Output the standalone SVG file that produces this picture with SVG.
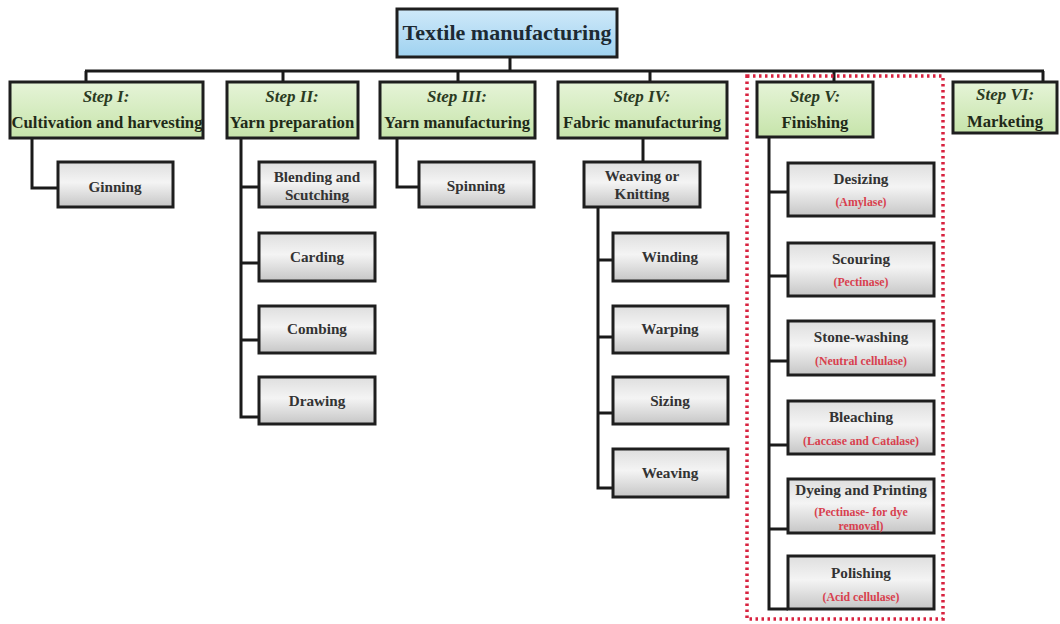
<svg xmlns="http://www.w3.org/2000/svg" width="1060" height="624" viewBox="0 0 1060 624">
<defs>
<linearGradient id="gBlue" x1="0" y1="0" x2="0" y2="1"><stop offset="0" stop-color="#cfe9f9"/><stop offset="1" stop-color="#9fd2f0"/></linearGradient>
<linearGradient id="gGreen" x1="0" y1="0" x2="0" y2="1"><stop offset="0" stop-color="#e6f4d8"/><stop offset="1" stop-color="#c6e4aa"/></linearGradient>
<linearGradient id="gGray" x1="0" y1="0" x2="0" y2="1"><stop offset="0" stop-color="#dedede"/><stop offset="0.45" stop-color="#f4f4f4"/><stop offset="1" stop-color="#c6c6c6"/></linearGradient>
<style>
.box{stroke:#1e1e1e;stroke-width:3}
.title{fill:url(#gBlue)}
.step{fill:url(#gGreen)}
.child{fill:url(#gGray)}
text{font-family:"Liberation Serif","Times New Roman",serif;font-weight:bold;text-anchor:middle}
.tt{font-size:22px;fill:#1d2a33}
.si{font-size:17px;font-style:italic;fill:#2a3a22}
.sn{font-size:16.7px;fill:#1f2a18}
.ct{font-size:15.2px;fill:#333}
.rt{font-size:11.8px;fill:#d8404e}
.con{stroke:#1a1a1a;stroke-width:3;fill:none}
</style>
</defs>
<rect width="1060" height="624" fill="#ffffff"/>
<g id="connectors">
<path class="con" d="M510 57V71" stroke-width="4"/>
<path class="con" d="M85 71H1044"/>
<path class="con" d="M86 71V82M283 71V82M458 71V82M650 71V82M834 71V82M1043 71V82"/>
<path class="con" d="M32 138V188H58"/>
<path class="con" d="M241 138V417H259M241 187H259M241 263H259M241 340H259"/>
<path class="con" d="M397 138V187H419"/>
<path class="con" d="M643 137V162"/>
<path class="con" d="M598 207V488H613M598 260H613M598 337H613M598 413H613"/>
<path class="con" d="M769 137V609H788M769 192H788M769 276H788M769 361H788M769 445H788M769 529H788"/>
</g>
<rect id="highlight" x="747" y="76" width="196" height="543" fill="none" stroke="#d8223f" stroke-width="3.5" stroke-dasharray="2.5 3.5"/>
<g id="title"><rect class="box title" x="397" y="9" width="220" height="48"/><text class="tt" x="507" y="40">Textile manufacturing</text></g>
<g id="step1"><rect class="box step" x="10" y="82" width="193" height="56"/><text class="si" x="106" y="102">Step I:</text><text class="sn" x="107" y="128">Cultivation and harvesting</text></g>
<g id="step2"><rect class="box step" x="227" y="82" width="131" height="56"/><text class="si" x="292" y="102">Step II:</text><text class="sn" x="292" y="128">Yarn preparation</text></g>
<g id="step3"><rect class="box step" x="380" y="82" width="155" height="56"/><text class="si" x="457" y="102">Step III:</text><text class="sn" x="457" y="128">Yarn manufacturing</text></g>
<g id="step4"><rect class="box step" x="558" y="82" width="169" height="56"/><text class="si" x="642" y="102">Step IV:</text><text class="sn" x="642" y="128">Fabric manufacturing</text></g>
<g id="step5"><rect class="box step" x="757" y="82" width="116" height="55"/><text class="si" x="815" y="102">Step V:</text><text class="sn" x="815" y="128">Finishing</text></g>
<g id="step6"><rect class="box step" x="953" y="82" width="104" height="51"/><text class="si" x="1005" y="100">Step VI:</text><text class="sn" x="1005" y="127">Marketing</text></g>
<g id="ginning"><rect class="box child" x="58" y="162" width="115" height="45"/><text class="ct" x="115" y="192">Ginning</text></g>
<g id="blending"><rect class="box child" x="259" y="162" width="116" height="45"/><text class="ct" x="317" y="182">Blending and</text><text class="ct" x="317" y="200">Scutching</text></g>
<g id="carding"><rect class="box child" x="259" y="233" width="116" height="48"/><text class="ct" x="317" y="262">Carding</text></g>
<g id="combing"><rect class="box child" x="259" y="306" width="116" height="47"/><text class="ct" x="317" y="334">Combing</text></g>
<g id="drawing"><rect class="box child" x="259" y="377" width="116" height="47"/><text class="ct" x="317" y="406">Drawing</text></g>
<g id="spinning"><rect class="box child" x="419" y="162" width="115" height="45"/><text class="ct" x="476" y="191">Spinning</text></g>
<g id="weavingknitting"><rect class="box child" x="584" y="162" width="116" height="45"/><text class="ct" x="642" y="181">Weaving or</text><text class="ct" x="642" y="199">Knitting</text></g>
<g id="winding"><rect class="box child" x="613" y="233" width="115" height="48"/><text class="ct" x="670" y="262">Winding</text></g>
<g id="warping"><rect class="box child" x="613" y="306" width="115" height="47"/><text class="ct" x="670" y="334">Warping</text></g>
<g id="sizing"><rect class="box child" x="613" y="377" width="115" height="47"/><text class="ct" x="670" y="406">Sizing</text></g>
<g id="weaving"><rect class="box child" x="613" y="449" width="115" height="48"/><text class="ct" x="670" y="478">Weaving</text></g>
<g id="desizing"><rect class="box child" x="788" y="163" width="146" height="53"/><text class="ct" x="861" y="184">Desizing</text><text class="rt" x="861" y="206">(Amylase)</text></g>
<g id="scouring"><rect class="box child" x="788" y="243" width="146" height="53"/><text class="ct" x="861" y="264">Scouring</text><text class="rt" x="861" y="286">(Pectinase)</text></g>
<g id="stonewashing"><rect class="box child" x="788" y="321" width="146" height="54"/><text class="ct" x="861" y="342">Stone-washing</text><text class="rt" x="861" y="365">(Neutral cellulase)</text></g>
<g id="bleaching"><rect class="box child" x="788" y="401" width="146" height="53"/><text class="ct" x="861" y="422">Bleaching</text><text class="rt" x="861" y="445">(Laccase and Catalase)</text></g>
<g id="dyeing"><rect class="box child" x="788" y="479" width="146" height="54"/><text class="ct" x="861" y="495">Dyeing and Printing</text><text class="rt" x="861" y="516">(Pectinase- for dye</text><text class="rt" x="861" y="530">removal)</text></g>
<g id="polishing"><rect class="box child" x="788" y="556" width="146" height="53"/><text class="ct" x="861" y="578">Polishing</text><text class="rt" x="861" y="601">(Acid cellulase)</text></g>
</svg>
